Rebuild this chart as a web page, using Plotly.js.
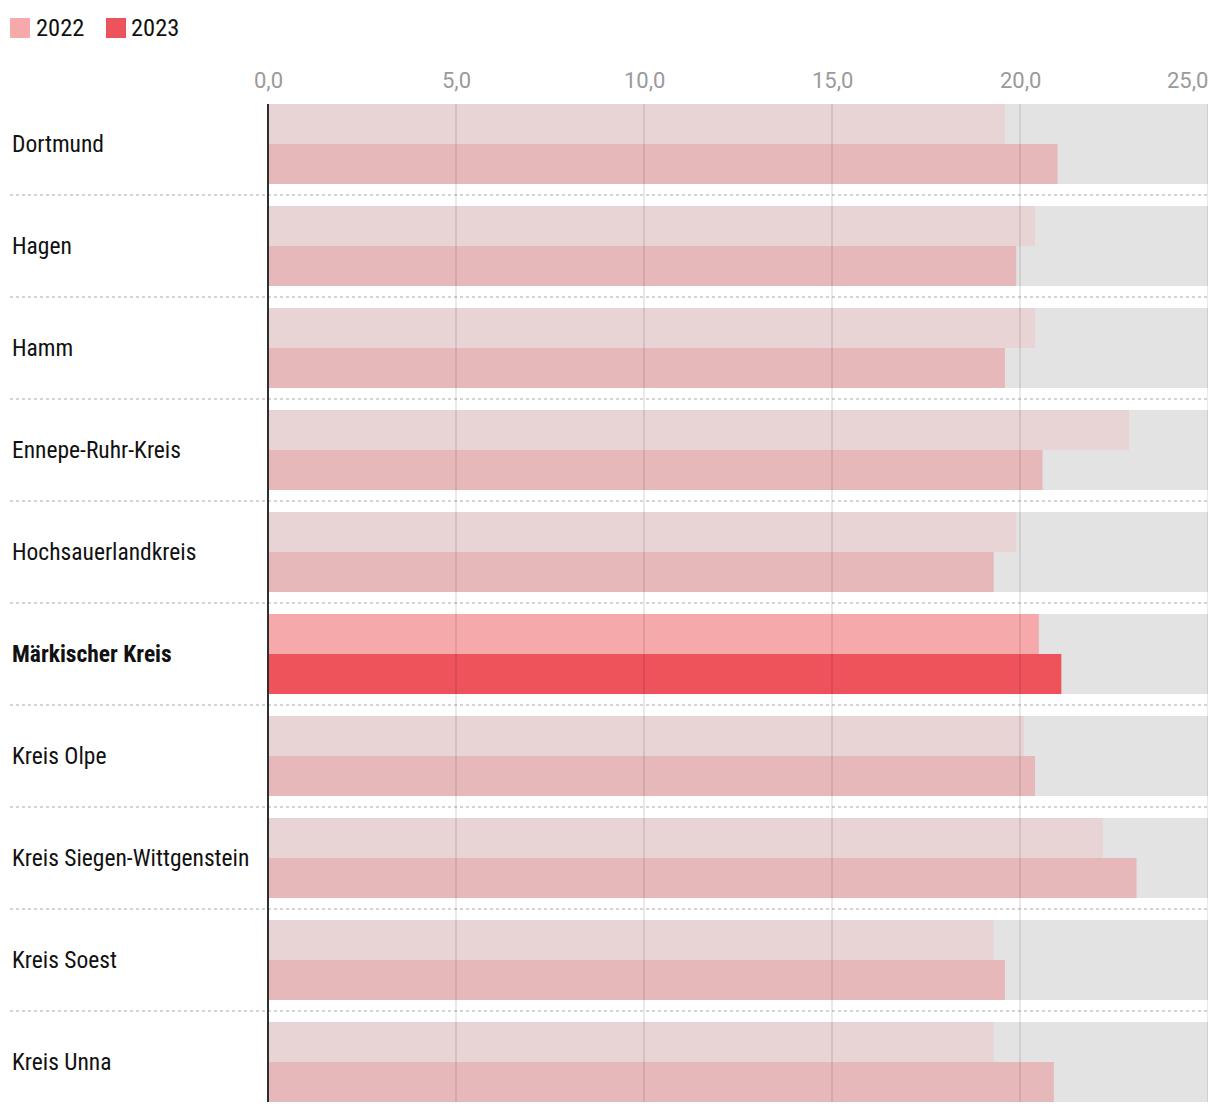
<!DOCTYPE html>
<html>
<head>
<meta charset="utf-8">
<script src="https://cdn.plot.ly/plotly-3.0.1.min.js"></script>
<style>html,body{margin:0;padding:0;background:#fff;}#chart{width:1220px;height:1112px;}</style>
</head>
<body>
<div id="chart"></div>
<script>
const categories = ["Dortmund","Hagen","Hamm","Ennepe-Ruhr-Kreis","Hochsauerlandkreis","Märkischer Kreis","Kreis Olpe","Kreis Siegen-Wittgenstein","Kreis Soest","Kreis Unna"];
const values2022 = [19.6, 20.4, 20.4, 22.9, 19.9, 20.5, 20.1, 22.2, 19.3, 19.3];
const values2023 = [21.0, 19.9, 19.6, 20.6, 19.3, 21.1, 20.4, 23.1, 19.6, 20.9];
const highlight = "Märkischer Kreis";
const axisMax = 25;
const tickVals = [0, 5, 10, 15, 20, 25];
const tickLabels = ["0,0", "5,0", "10,0", "15,0", "20,0", "25,0"];
const seriesNames = ["2022", "2023"];

const C22 = "#e8d3d5", C23 = "#e6b8ba", H22 = "#f5a9ab", H23 = "#ee535b", BG = "#e3e3e3";
const labelFont = "Roboto Condensed, Roboto, sans-serif";

const traces = [
  {type:"bar", orientation:"h", y:categories, x:categories.map(()=>axisMax), width:0.784, offset:-0.392,
   marker:{color:BG, line:{width:0}}, showlegend:false, hoverinfo:"skip"},
  {type:"bar", orientation:"h", name:seriesNames[0], y:categories, x:values2022, width:0.392, offset:-0.392,
   marker:{color:categories.map(c=>c===highlight?H22:C22), line:{width:0}}, showlegend:false},
  {type:"bar", orientation:"h", name:seriesNames[1], y:categories, x:values2023, width:0.392, offset:0,
   marker:{color:categories.map(c=>c===highlight?H23:C23), line:{width:0}}, showlegend:false}
];

const shapes = [];
const annotations = [];
// dotted separators
for (let i=0;i<categories.length-1;i++){
  shapes.push({type:"line", layer:"below", xref:"paper", yref:"y", x0:-0.2745, x1:1, y0:i+0.5, y1:i+0.5,
    line:{color:"#d4d4d4", width:2, dash:"dot"}});
}
// gridlines above bars
tickVals.forEach(v=>{
  if (v===0) return;
  shapes.push({type:"line", layer:"above", xref:"x", yref:"paper", x0:v, x1:v, y0:0, y1:1,
    line:{color:"rgba(0,0,0,0.085)", width:2}});
});
// zero line (at the left edge of the plot = x 0)
shapes.push({type:"line", layer:"above", xref:"paper", yref:"paper", x0:0, x1:0, y0:0, y1:1,
  line:{color:"#2e2e2e", width:2}});
// tick labels
tickVals.forEach((v,i)=>{
  const last = i===tickVals.length-1;
  annotations.push({xref:"x", yref:"paper", x:v, y:1.0235, text:tickLabels[i], showarrow:false,
    xanchor: last ? "right" : "center", xshift: last ? 2 : 0, yanchor:"middle",
    font:{family:"Roboto, sans-serif", size:22, color:"#9a9a9a"}});
});
// category labels
categories.forEach(c=>{
  annotations.push({xref:"paper", yref:"y", x:-0.2745, y:c, text: c===highlight ? "<b>"+c+"</b>" : c,
    showarrow:false, xanchor:"left", yanchor:"middle", font:{family:labelFont, size:23.5, color:"#111"}});
});
// legend
const legendItems = [
  {x0:(10-268)/940, x1:(30-268)/940, tx:(34-268)/940, color:H22, label:seriesNames[0]},
  {x0:(106-268)/940, x1:(126-268)/940, tx:(129-268)/940, color:H23, label:seriesNames[1]}
];
legendItems.forEach(it=>{
  shapes.push({type:"rect", xref:"paper", yref:"paper", x0:it.x0, x1:it.x1, y0:1.06613, y1:1.08617,
    fillcolor:it.color, line:{width:0}});
  annotations.push({xref:"paper", yref:"paper", x:it.tx, y:1.0762, text:it.label, showarrow:false,
    xanchor:"left", yanchor:"middle", font:{family:labelFont, size:24.5, color:"#111"}});
});

const layout = {
  width:1220, height:1112,
  margin:{l:268, r:12, t:104, b:10, pad:0},
  paper_bgcolor:"#fff", plot_bgcolor:"#fff",
  barmode:"overlay",
  showlegend:false,
  hovermode:false,
  xaxis:{range:[0, axisMax], showgrid:false, zeroline:false, showticklabels:false, ticks:"", fixedrange:true},
  yaxis:{type:"category", categoryorder:"array", categoryarray:categories, range:[9.392, -0.392],
    showgrid:false, zeroline:false, showticklabels:false, ticks:"", fixedrange:true},
  shapes:shapes,
  annotations:annotations
};

Plotly.newPlot("chart", traces, layout, {displayModeBar:false, staticPlot:true});
</script>
</body>
</html>
